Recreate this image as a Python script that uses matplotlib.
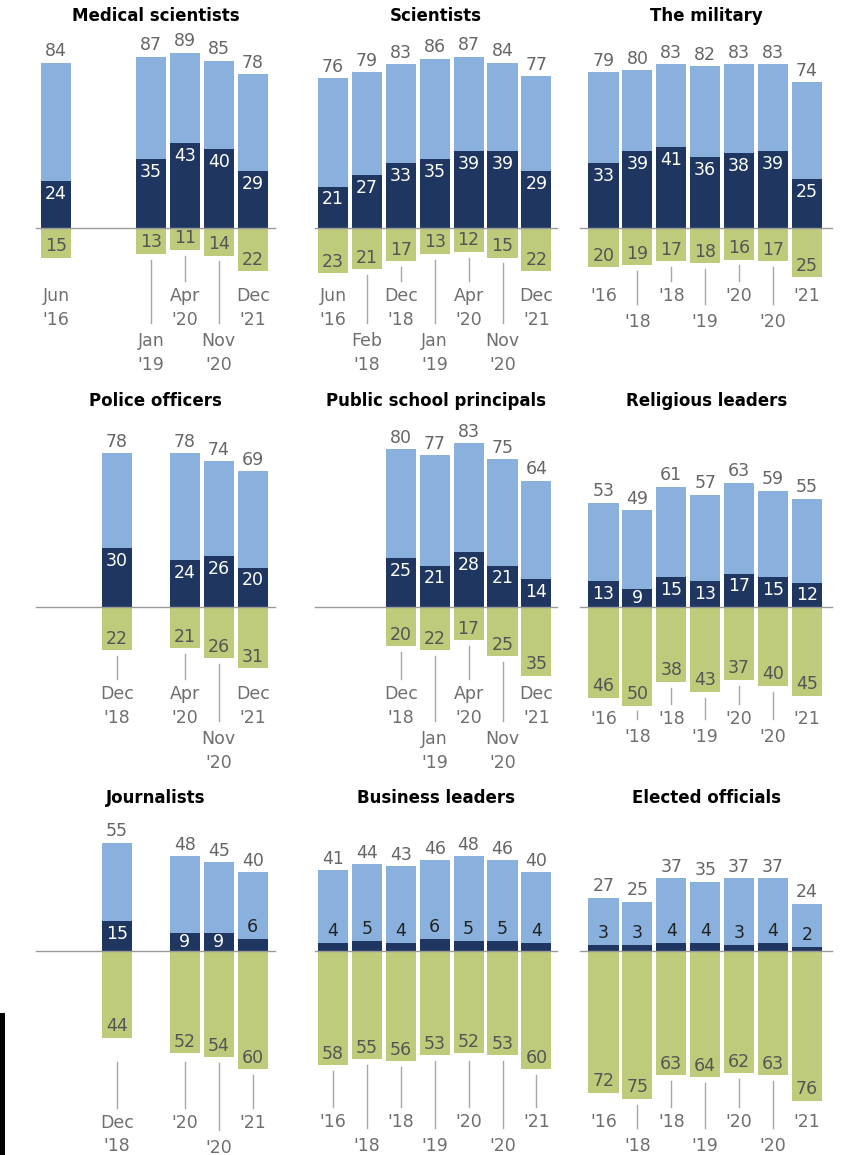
import matplotlib.pyplot as plt
from matplotlib.patches import Rectangle

# Figure size in pixels and the shared scale of every panel
W, H = 846, 1155
PX = 1.97       # pixels per percentage point
PITCH = 33.9    # pixels between neighbouring bar slots
BAR_W = 0.885   # bar width in slot units

LIGHT = '#8AB1DE'
NAVY = '#1F3760'
GREEN = '#BDCB7B'
NUM_GRAY = '#666666'
DATE_GRAY = '#6f6f6f'
LEADER = '#a8a8a8'

# Confidence to act in the public's best interest (%)
# total = great deal + fair amount, strong = great deal, neg = not too much / none at all
medical_total = [84, 87, 89, 85, 78]
medical_strong = [24, 35, 43, 40, 29]
medical_neg = [15, 13, 11, 14, 22]
medical_dates = ["Jun\n'16", "Jan\n'19", "Apr\n'20", "Nov\n'20", "Dec\n'21"]

scientists_total = [76, 79, 83, 86, 87, 84, 77]
scientists_strong = [21, 27, 33, 35, 39, 39, 29]
scientists_neg = [23, 21, 17, 13, 12, 15, 22]
scientists_dates = ["Jun\n'16", "Feb\n'18", "Dec\n'18", "Jan\n'19", "Apr\n'20", "Nov\n'20", "Dec\n'21"]

military_total = [79, 80, 83, 82, 83, 83, 74]
military_strong = [33, 39, 41, 36, 38, 39, 25]
military_neg = [20, 19, 17, 18, 16, 17, 25]

police_total = [78, 78, 74, 69]
police_strong = [30, 24, 26, 20]
police_neg = [22, 21, 26, 31]
police_dates = ["Dec\n'18", "Apr\n'20", "Nov\n'20", "Dec\n'21"]

principals_total = [80, 77, 83, 75, 64]
principals_strong = [25, 21, 28, 21, 14]
principals_neg = [20, 22, 17, 25, 35]
principals_dates = ["Dec\n'18", "Jan\n'19", "Apr\n'20", "Nov\n'20", "Dec\n'21"]

religious_total = [53, 49, 61, 57, 63, 59, 55]
religious_strong = [13, 9, 15, 13, 17, 15, 12]
religious_neg = [46, 50, 38, 43, 37, 40, 45]

journalists_total = [55, 48, 45, 40]
journalists_strong = [15, 9, 9, 6]
journalists_neg = [44, 52, 54, 60]
journalists_dates = ["Dec\n'18", "'20", "'20", "'21"]

business_total = [41, 44, 43, 46, 48, 46, 40]
business_strong = [4, 5, 4, 6, 5, 5, 4]
business_neg = [58, 55, 56, 53, 52, 53, 60]

elected_total = [27, 25, 37, 35, 37, 37, 24]
elected_strong = [3, 3, 4, 4, 3, 4, 2]
elected_neg = [72, 75, 63, 64, 62, 63, 76]

year_dates = ["'16", "'18", "'18", "'19", "'20", "'20", "'21"]

# label rows: 0 = upper without leader, 1 = upper with leader, 2 = lower with leader
panels = [
    dict(title='Medical scientists', slots=[0.2, 3, 4, 5, 6], total=medical_total,
         strong=medical_strong, neg=medical_neg, dates=medical_dates,
         rows=[0, 2, 1, 2, 0], label_y=(-30, -52.8)),
    dict(title='Scientists', slots=list(range(7)), total=scientists_total,
         strong=scientists_strong, neg=scientists_neg, dates=scientists_dates,
         rows=[0, 2, 1, 2, 1, 2, 0], label_y=(-30, -52.8)),
    dict(title='The military', slots=list(range(7)), total=military_total,
         strong=military_strong, neg=military_neg, dates=year_dates,
         rows=[0, 2, 1, 2, 1, 2, 0], label_y=(-30, -43)),
    dict(title='Police officers', slots=[2, 4, 5, 6], total=police_total,
         strong=police_strong, neg=police_neg, dates=police_dates,
         rows=[1, 1, 2, 0], label_y=(-39.6, -62.4)),
    dict(title='Public school principals', slots=[2, 3, 4, 5, 6], total=principals_total,
         strong=principals_strong, neg=principals_neg, dates=principals_dates,
         rows=[1, 2, 1, 2, 0], label_y=(-39.6, -62.4)),
    dict(title='Religious leaders', slots=list(range(7)), total=religious_total,
         strong=religious_strong, neg=religious_neg, dates=year_dates,
         rows=[0, 2, 1, 2, 1, 2, 0], label_y=(-52.3, -61.4)),
    dict(title='Journalists', slots=[2, 4, 5, 6], total=journalists_total,
         strong=journalists_strong, neg=journalists_neg, dates=journalists_dates,
         rows=[1, 1, 2, 1], label_y=(-82.5, -95.2)),
    dict(title='Business leaders', slots=list(range(7)), total=business_total,
         strong=business_strong, neg=business_neg, dates=year_dates,
         rows=[1, 2, 1, 2, 1, 2, 1], label_y=(-82, -94.6)),
    dict(title='Elected officials', slots=list(range(7)), total=elected_total,
         strong=elected_strong, neg=elected_neg, dates=year_dates,
         rows=[0, 2, 1, 2, 1, 2, 0], label_y=(-82, -94.2)),
]

# grid placement: slot-0 centre per column, zero line per row (pixels)
col_x0 = [49.3, 333, 603.5]
row_base = [228, 607, 951]
col_line = [(-0.39, 6.66), (-0.53, 6.6), (-0.68, 6.74)]
row_title_y = [107.6, 104.6, 77.7]

fig = plt.figure(figsize=(W / 100, H / 100), dpi=100)
fig.patch.set_facecolor('white')

for i, p in enumerate(panels):
    r, c = divmod(i, 3)
    x0, base = col_x0[c], row_base[r]
    left = x0 - 1.6 * PITCH
    right = x0 + 7.0 * PITCH
    top = base - 115 * PX
    bottom = base + 105 * PX
    ax = fig.add_axes([left / W, 1 - bottom / H, (right - left) / W, (bottom - top) / H])
    ax.set_xlim(-1.6, 7.0)
    ax.set_ylim(-105, 115)
    ax.axis('off')

    xs = p['slots']
    ax.bar(xs, p['total'], width=BAR_W, color=LIGHT, zorder=2)
    ax.bar(xs, p['strong'], width=BAR_W, color=NAVY, zorder=3)
    ax.bar(xs, [-v for v in p['neg']], width=BAR_W, color=GREEN, zorder=2)

    lx0, lx1 = col_line[c]
    ax.plot([lx0, lx1], [0, 0], color='#9a9a9a', lw=1, zorder=4)

    ax.text((lx0 + lx1) / 2, row_title_y[r], p['title'], ha='center', va='center',
            fontsize=12, fontweight='bold', color='black')

    up_y, low_y = p['label_y']
    for x, t, s, n, d, row in zip(xs, p['total'], p['strong'], p['neg'], p['dates'], p['rows']):
        ax.text(x, t + 1.3, str(t), ha='center', va='bottom', fontsize=12.5, color=NUM_GRAY)
        if s >= 9:
            ax.text(x, max(s - 6.5, s / 2), str(s), ha='center', va='center',
                    fontsize=12.5, color='white', zorder=5)
        else:
            ax.text(x, s + 1.8, str(s), ha='center', va='bottom', fontsize=12.5,
                    color='#222222', zorder=5)
        ax.text(x, -n + 1.3, str(n), ha='center', va='bottom', fontsize=12.5, color='#555555')

        # date label with its leader line
        ly = low_y if row == 2 else up_y
        ax.text(x, ly, d, ha='center', va='top', fontsize=12.5, color=DATE_GRAY,
                linespacing=1.4)
        if row > 0:
            y_end = ly + (4.5 if row == 2 else 3)
            y_start = -n - 3
            if row == 1:
                y_start = min(y_start, y_end + 23)
            ax.plot([x, x], [y_start, y_end], color=LEADER, lw=1, zorder=1)

# dark strip along the lower left edge
fig.patches.append(Rectangle((0, 0), 5 / W, (H - 1013) / H, transform=fig.transFigure,
                             facecolor='black', edgecolor='none'))

fig.savefig('out.png', dpi=100)
